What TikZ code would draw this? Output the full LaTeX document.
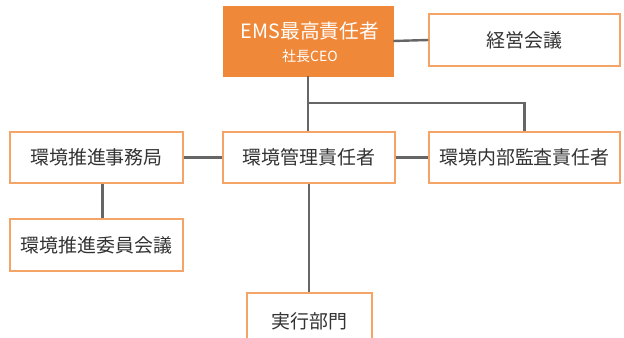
\documentclass[tikz,border=0pt]{standalone}
\usepackage{fontspec}
\setmainfont{Noto Sans CJK JP}
\definecolor{boxorange}{HTML}{F4A467}
\definecolor{fillorange}{HTML}{F0883A}
\definecolor{linegray}{HTML}{666666}
\definecolor{txtgray}{HTML}{333333}
\begin{document}
\begin{tikzpicture}[x=0.75pt,y=-0.75pt,
  orgbox/.style={draw=boxorange,line width=1.1pt,fill=white,text=txtgray,
    font=\fontsize{14.2}{16}\selectfont,inner sep=0pt},
  topbox/.style={draw=fillorange,fill=fillorange,inner sep=0pt},
  toplabel/.style={text=white,inner sep=0pt},
  conn/.style={draw=linegray,line width=1.8pt}]
\useasboundingbox (0,0) rectangle (624,338);
\clip (0,0) rectangle (624,338);
\node[topbox,minimum width=127.5pt,minimum height=52.5pt] (ems) at (308,41) {};
\node[toplabel,font=\fontsize{14.8}{16}\selectfont] (emst) at (310,31) {EMS最高責任者};
\node[toplabel,font=\fontsize{10.5}{12}\selectfont] (ceo) at (310,56) {社長CEO};
\node[orgbox,minimum width=143pt,minimum height=39pt] (keiei) at (524.5,40) {経営会議};
\node[orgbox,minimum width=130pt,minimum height=38pt] (jimu) at (96.5,157.5) {環境推進事務局};
\node[orgbox,minimum width=129pt,minimum height=38pt] (kanri) at (309,157.5) {環境管理責任者};
\node[orgbox,minimum width=143pt,minimum height=38pt] (kansa) at (524.5,157.5) {環境内部監査責任者};
\node[orgbox,minimum width=130pt,minimum height=39pt] (iin) at (96.5,245) {環境推進委員会議};
\node[orgbox,minimum width=94pt,minimum height=54pt] (jikko) at (309.5,329) {};
\node[text=txtgray,font=\fontsize{14.2}{16}\selectfont,inner sep=0pt] (jikkolabel) at (309.5,321) {実行部門};
\coordinate (br) at (308,103);
\draw[conn] (ems.east) -- (keiei.west);
\draw[conn] (ems.south) -- (ems.south |- kanri.north);
\draw[conn] (br) -| (kansa.north);
\draw[conn] (jimu.east) -- (kanri.west);
\draw[conn] (kanri.east) -- (kansa.west);
\draw[conn] ([xshift=4.5]jimu.south) -- ([xshift=4.5]iin.north);
\draw[conn] (kanri.south) -- (kanri.south |- jikko.north);
\end{tikzpicture}
\end{document}
